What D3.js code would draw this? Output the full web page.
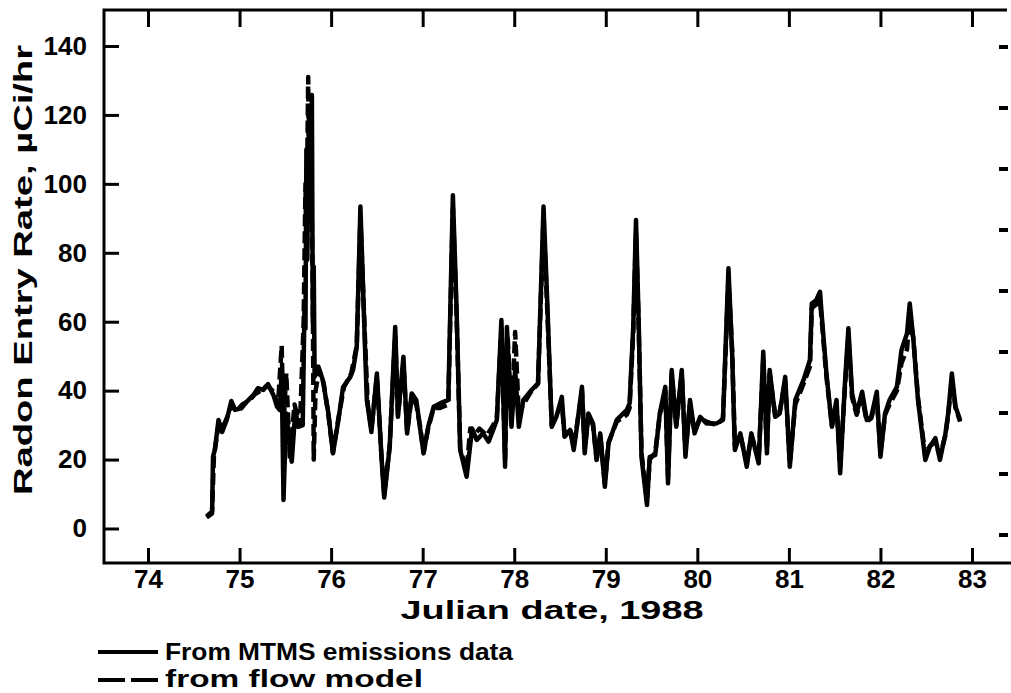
<!DOCTYPE html>
<meta charset="utf-8">
<script src="https://d3js.org/d3.v7.min.js"></script>
<style>
  body { margin: 0; background: #fff; }
  text { font-family: "Liberation Sans", Arial, sans-serif; font-weight: bold; fill: #000; }
</style>
<div id="chart"></div>
<script>
// tick values
var xTicks = [74, 75, 76, 77, 78, 79, 80, 81, 82, 83];
var yTicks = [0, 20, 40, 60, 80, 100, 120, 140];
var rightTicks = [0, 1, 2, 3, 4, 5, 6, 7, 8];

// radon entry rate from MTMS emissions data [julian day, uCi/hr]
var mtms = [[74.64,3.2],[74.70,4.4],[74.71,20.8],[74.73,22.8],[74.77,31.5],[74.81,28],[74.86,31.5],[74.91,37],[74.95,34.4],
  [75.02,34.9],[75.08,36.8],[75.15,38.7],[75.20,40.7],[75.26,40.2],[75.31,41.9],[75.37,38.7],[75.41,35.3],[75.44,34.4],
  [75.46,46],[75.48,8.3],[75.51,33.4],[75.57,19.4],[75.61,34.4],[75.64,29.5],[75.69,30],[75.71,66],[75.72,58],[75.73,110],
  [75.74,78],[75.75,104],[75.76,122],[75.77,90],[75.78,112],[75.79,125.8],[75.80,60],[75.81,76],[75.82,44],[75.86,47],
  [75.91,43],[75.97,33.5],[76.02,21.8],[76.08,31.5],
  [76.13,41],[76.21,44],[76.24,46],[76.28,52.7],[76.32,93.4],[76.37,52.7],[76.39,37.3],[76.44,28],[76.50,45],[76.55,20.8],
  [76.58,9],[76.64,23.7],[76.70,58.5],[76.73,32.4],[76.79,49.8],[76.83,27.6],[76.88,39.2],[76.93,37.3],[76.97,29.5],
  [77.01,21.8],[77.06,29.5],[77.12,35.3],[77.19,36.3],[77.28,37.3],[77.33,96.7],[77.37,64],[77.41,22.8],[77.48,15],
  [77.54,29],[77.59,25.7],[77.66,27.6],[77.72,25.2],[77.77,28.6],[77.81,31.5],[77.86,60.5],[77.90,17.9],[77.92,58.5],
  [77.97,29.5],[78.01,46],[78.05,29.5],[78.10,37.3],[78.19,40.2],[78.26,42.1],[78.32,93.4],[78.36,66.3],[78.41,29.5],
  [78.46,32.4],[78.52,38.2],[78.55,26.6],[78.61,28.6],[78.65,22.8],[78.68,28.6],[78.74,41.1],[78.77,21.8],[78.81,33.4],
  [78.86,30.5],[78.90,19.9],[78.94,27.6],[78.99,12.1],[79.03,24.7],[79.12,31.5],[79.23,34.4],[79.26,36.3],[79.30,58.5],
  [79.33,89.5],[79.36,59.5],[79.39,20.8],[79.45,6.8],[79.48,20.8],[79.54,21.3],[79.59,33.4],[79.65,41.1],[79.68,13.1],
  [79.72,46],[79.77,29.5],[79.83,46],[79.87,20.8],[79.92,37.3],[79.97,27.6],[80.03,32.4],[80.10,30.5],[80.21,30.5],
  [80.28,31.5],[80.34,75.5],[80.38,50.8],[80.41,22.8],[80.47,27.6],[80.54,17.9],[80.59,27.6],[80.67,18.9],[80.72,51.3],
  [80.76,21.8],[80.79,46],[80.85,32.4],[80.90,33.4],[80.96,44],[81.01,17.9],[81.07,37.3],[81.16,43.1],[81.23,48.9],
  [81.25,65.3],[81.30,66.3],[81.34,68.7],[81.36,61.4],[81.41,45],[81.47,29.5],[81.52,37.3],[81.56,16],[81.61,41.1],
  [81.65,58.1],[81.69,39.2],[81.74,33.4],[81.80,39.7],[81.85,31.5],[81.90,32.4],[81.96,39.7],[82.00,20.8],[82.05,33.4],
  [82.10,37.3],[82.18,41.1],[82.23,51.8],[82.29,56.6],[82.32,65.3],[82.36,54.7],[82.41,37.3],[82.49,19.9],[82.54,23.7],
  [82.60,26.2],[82.65,19.9],[82.71,27.6],[82.74,33.4],[82.78,45],[82.82,35.3],[82.87,31.5]];

// radon entry rate from flow model
var flow = [[74.64,3.5],[74.70,5],[74.72,21],[74.77,30],[74.81,29],[74.86,32],[74.92,36],[74.96,34],[75.03,36],[75.10,37],
  [75.17,39],[75.23,40],[75.30,41.5],[75.36,40],[75.42,36],[75.46,53],[75.48,30],[75.51,45],[75.55,20],[75.60,36],[75.66,30],
  [75.70,60],[75.72,100],[75.73,84],[75.75,131],[75.76,95],[75.77,110],[75.78,118],[75.79,88],[75.80,70],[75.81,20],[75.83,40],
  [75.87,46],[75.92,42],[75.97,33],
  [76.02,22],[76.08,32],[76.14,41],[76.22,45],[76.28,53],[76.32,90],[76.37,55],[76.40,36],[76.44,29],[76.50,44],[76.55,21],
  [76.58,10],[76.64,24],[76.70,56],[76.73,33],[76.79,48],[76.83,28],[76.88,38],[76.93,36],[76.97,30],[77.01,22],[77.06,29],
  [77.12,35],[77.19,35],[77.28,36],[77.33,93],[77.37,62],[77.41,23],[77.48,17],[77.52,29],[77.56,27],[77.62,29],[77.70,27],
  [77.77,30],[77.81,32],[77.86,58],[77.90,20],[77.93,55],[77.97,31],[78.01,57],[78.05,33],[78.10,36],[78.19,40],[78.26,42],
  [78.32,90],[78.36,64],[78.41,30],[78.46,33],[78.52,36],[78.55,27],[78.61,29],[78.65,24],[78.68,29],[78.74,40],[78.77,23],
  [78.81,33],[78.86,30],[78.90,20],[78.94,27],[78.99,13],[79.03,25],[79.12,31],[79.23,33],[79.26,35],[79.30,57],[79.33,86],
  [79.36,58],[79.39,22],[79.45,8],[79.48,20],[79.54,22],[79.59,33],[79.65,40],[79.68,15],[79.72,45],[79.77,30],[79.83,45],
  [79.87,22],[79.92,36],[79.97,28],[80.03,32],[80.10,31],[80.21,30],[80.28,32],[80.34,72],[80.38,52],[80.41,24],[80.47,27],
  [80.54,19],[80.59,27],[80.67,20],[80.72,49],[80.76,23],[80.79,45],[80.85,33],[80.90,34],[80.96,43],[81.01,19],[81.07,36],
  [81.16,42],[81.23,47],[81.25,64],[81.30,65],[81.34,66],[81.36,60],[81.41,44],[81.47,30],[81.52,36],[81.56,18],[81.61,40],
  [81.65,56],[81.69,38],[81.74,33],[81.80,38],[81.85,31],[81.90,32],[81.96,38],[82.00,22],[82.05,33],[82.10,36],[82.18,40],
  [82.23,48],[82.29,52],[82.32,62],[82.36,55],[82.41,38],[82.49,21],[82.54,24],[82.60,25],[82.65,21],[82.71,27],[82.74,33],
  [82.78,43],[82.82,35],[82.87,31]];

var legendLabels = ["From MTMS emissions data", "from flow model"];

var W = 1011, H = 693;
var frame = {left: 104, top: 10, bottom: 563, right: 1007};

var svg = d3.select("#chart").append("svg")
    .attr("width", W)
    .attr("height", H);

var x = d3.scaleLinear().domain([74, 83]).range([148, 972]);
var y = d3.scaleLinear().domain([0, 140]).range([528.5, 46]);
var yRight = d3.scaleLinear().domain([0, 8]).range([535, 47]);

// bottom axis, ticks pointing inward
var gx = svg.append("g")
    .attr("transform", "translate(0," + frame.bottom + ")")
    .call(d3.axisBottom(x).tickValues(xTicks).tickSize(-15).tickPadding(7).tickFormat(d3.format("d")));
gx.select(".domain").remove();
gx.selectAll("text").style("font-size", "26px");

// top axis, ticks only
var gt = svg.append("g")
    .attr("transform", "translate(0," + frame.top + ")")
    .call(d3.axisTop(x).tickValues(xTicks).tickSize(-17).tickFormat(""));
gt.select(".domain").remove();

// left axis
var gy = svg.append("g")
    .attr("transform", "translate(" + frame.left + ",0)")
    .call(d3.axisLeft(y).tickValues(yTicks).tickSize(-15).tickPadding(17));
gy.select(".domain").remove();
gy.selectAll("text").style("font-size", "26px");

svg.selectAll(".tick line").attr("stroke", "#000").attr("stroke-width", 3);

// right side: short marks only, no frame line
svg.append("g").selectAll("line")
  .data(rightTicks)
  .enter().append("line")
    .attr("x1", 999).attr("x2", 1008)
    .attr("y1", d => yRight(d)).attr("y2", d => yRight(d))
    .attr("stroke", "#000").attr("stroke-width", 4);

// frame lines
svg.append("path")
    .attr("d", "M" + frame.right + "," + frame.top + "H" + frame.left + "V" + frame.bottom + "H" + W)
    .attr("fill", "none")
    .attr("stroke", "#000")
    .attr("stroke-width", 3);

var line = d3.line()
    .x(d => x(d[0]))
    .y(d => y(d[1]));

svg.append("path")
    .datum(flow)
    .attr("d", line)
    .attr("fill", "none")
    .attr("stroke", "#000")
    .attr("stroke-width", 4.5)
    .attr("stroke-dasharray", "12,5")
    .attr("stroke-linejoin", "round");

svg.append("path")
    .datum(mtms)
    .attr("d", line)
    .attr("fill", "none")
    .attr("stroke", "#000")
    .attr("stroke-width", 4.5)
    .attr("stroke-linejoin", "round");

// axis titles
svg.append("text")
    .attr("x", 552).attr("y", 619)
    .attr("text-anchor", "middle")
    .attr("textLength", 303)
    .attr("lengthAdjust", "spacingAndGlyphs")
    .style("font-size", "25px")
    .text("Julian date, 1988");

svg.append("text")
    .attr("transform", "translate(32,270) rotate(-90)")
    .attr("text-anchor", "middle")
    .attr("textLength", 450)
    .attr("lengthAdjust", "spacingAndGlyphs")
    .style("font-size", "26px")
    .text("Radon Entry Rate, \u00b5Ci/hr");

// legend
var leg = svg.append("g");
leg.append("line").attr("x1", 98).attr("x2", 158).attr("y1", 652).attr("y2", 652)
    .attr("stroke", "#000").attr("stroke-width", 4);
leg.append("line").attr("x1", 98).attr("x2", 158).attr("y1", 680).attr("y2", 680)
    .attr("stroke", "#000").attr("stroke-width", 4).attr("stroke-dasharray", "27,6");
leg.selectAll("text")
  .data(legendLabels)
  .enter().append("text")
    .attr("x", 165)
    .attr("y", (d, i) => 660 + i * 27)
    .attr("textLength", (d, i) => i === 0 ? 348 : 258)
    .attr("lengthAdjust", "spacingAndGlyphs")
    .style("font-size", "24px")
    .text(d => d);
</script>
